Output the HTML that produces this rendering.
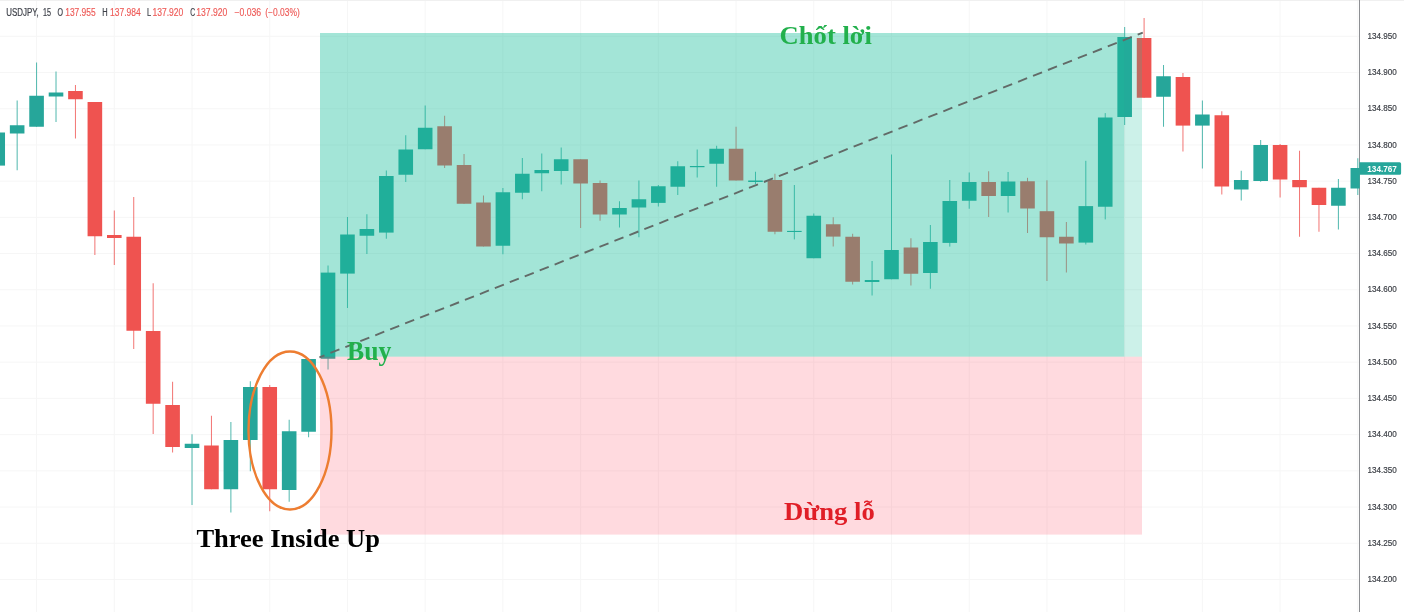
<!DOCTYPE html>
<html lang="vi"><head><meta charset="utf-8"><title>Three Inside Up - USDJPY</title>
<style>html,body{margin:0;padding:0;background:#fff}body{width:1404px;height:612px;overflow:hidden}svg{display:block}.ax{font-family:"Liberation Sans",sans-serif;font-size:9.8px;fill:#3d4047;stroke:#3d4047;stroke-width:.2px}.hd{font-family:"Liberation Sans",sans-serif;font-size:10px;fill:#3e4149;stroke:#3e4149;stroke-width:.2px}.hr{font-family:"Liberation Sans",sans-serif;font-size:10px;fill:#ee5a57;stroke:#ee5a57;stroke-width:.15px}.lb{font-family:"Liberation Serif",serif;font-weight:bold;font-size:26.67px}</style></head><body>
<svg width="1404" height="612" viewBox="0 0 1404 612">
<rect width="1404" height="612" fill="#fff"/>
<g stroke="#f6f6f6" stroke-width="1" fill="none">
<path d="M0 36.30H1359.5"/>
<path d="M0 72.51H1359.5"/>
<path d="M0 108.72H1359.5"/>
<path d="M0 144.93H1359.5"/>
<path d="M0 181.14H1359.5"/>
<path d="M0 217.35H1359.5"/>
<path d="M0 253.56H1359.5"/>
<path d="M0 289.77H1359.5"/>
<path d="M0 325.98H1359.5"/>
<path d="M0 362.19H1359.5"/>
<path d="M0 398.40H1359.5"/>
<path d="M0 434.61H1359.5"/>
<path d="M0 470.82H1359.5"/>
<path d="M0 507.03H1359.5"/>
<path d="M0 543.24H1359.5"/>
<path d="M0 579.45H1359.5"/>
<path d="M36.58 1V612"/>
<path d="M114.30 1V612"/>
<path d="M192.02 1V612"/>
<path d="M269.74 1V612"/>
<path d="M347.46 1V612"/>
<path d="M425.18 1V612"/>
<path d="M502.90 1V612"/>
<path d="M580.62 1V612"/>
<path d="M658.34 1V612"/>
<path d="M736.06 1V612"/>
<path d="M813.78 1V612"/>
<path d="M891.50 1V612"/>
<path d="M969.22 1V612"/>
<path d="M1046.94 1V612"/>
<path d="M1124.66 1V612"/>
<path d="M1202.38 1V612"/>
<path d="M1280.10 1V612"/>
<path d="M1357.82 1V612"/>
</g>
<rect x="0" y="0" width="1404" height="1" fill="#f0f0f0"/>
<rect x="1359.0" y="0" width="1" height="612" fill="#8d8f93"/>
<clipPath id="cp"><rect x="0" y="0" width="1359.8" height="612"/></clipPath>
<g clip-path="url(#cp)">
<rect x="-9.58" y="132.50" width="14.6" height="33.10" fill="#26a69a"/>
<rect x="16.65" y="100.50" width="1" height="69.75" fill="#26a69a" fill-opacity=".8"/>
<rect x="9.85" y="125.25" width="14.6" height="8.25" fill="#26a69a"/>
<rect x="36.08" y="62.50" width="1" height="64.25" fill="#26a69a" fill-opacity=".8"/>
<rect x="29.28" y="95.75" width="14.6" height="31.00" fill="#26a69a"/>
<rect x="55.51" y="71.50" width="1" height="50.50" fill="#26a69a" fill-opacity=".8"/>
<rect x="48.71" y="92.50" width="14.6" height="4.00" fill="#26a69a"/>
<rect x="74.94" y="85.00" width="1" height="53.50" fill="#ef5350" fill-opacity=".8"/>
<rect x="68.14" y="91.00" width="14.6" height="8.25" fill="#ef5350"/>
<rect x="94.37" y="102.00" width="1" height="153.00" fill="#ef5350" fill-opacity=".8"/>
<rect x="87.57" y="102.00" width="14.6" height="134.25" fill="#ef5350"/>
<rect x="113.80" y="210.50" width="1" height="54.50" fill="#ef5350" fill-opacity=".8"/>
<rect x="107.00" y="235.00" width="14.6" height="3.00" fill="#ef5350"/>
<rect x="133.23" y="197.00" width="1" height="152.00" fill="#ef5350" fill-opacity=".8"/>
<rect x="126.43" y="236.75" width="14.6" height="94.00" fill="#ef5350"/>
<rect x="152.66" y="283.25" width="1" height="150.75" fill="#ef5350" fill-opacity=".8"/>
<rect x="145.86" y="331.00" width="14.6" height="72.75" fill="#ef5350"/>
<rect x="172.09" y="381.75" width="1" height="70.75" fill="#ef5350" fill-opacity=".8"/>
<rect x="165.29" y="405.00" width="14.6" height="42.00" fill="#ef5350"/>
<rect x="191.52" y="434.25" width="1" height="70.75" fill="#26a69a" fill-opacity=".8"/>
<rect x="184.72" y="443.75" width="14.6" height="4.25" fill="#26a69a"/>
<rect x="210.95" y="415.75" width="1" height="73.50" fill="#ef5350" fill-opacity=".8"/>
<rect x="204.15" y="445.50" width="14.6" height="43.75" fill="#ef5350"/>
<rect x="230.38" y="422.00" width="1" height="90.50" fill="#26a69a" fill-opacity=".8"/>
<rect x="223.58" y="440.00" width="14.6" height="49.25" fill="#26a69a"/>
<rect x="249.81" y="381.25" width="1" height="90.00" fill="#26a69a" fill-opacity=".8"/>
<rect x="243.01" y="387.00" width="14.6" height="53.00" fill="#26a69a"/>
<rect x="269.24" y="385.00" width="1" height="126.25" fill="#ef5350" fill-opacity=".8"/>
<rect x="262.44" y="387.00" width="14.6" height="102.25" fill="#ef5350"/>
<rect x="288.67" y="419.75" width="1" height="82.00" fill="#26a69a" fill-opacity=".8"/>
<rect x="281.87" y="431.25" width="14.6" height="58.75" fill="#26a69a"/>
<rect x="308.10" y="359.00" width="1" height="78.25" fill="#26a69a" fill-opacity=".8"/>
<rect x="301.30" y="359.00" width="14.6" height="72.75" fill="#26a69a"/>
<rect x="327.53" y="265.50" width="1" height="104.00" fill="#26a69a" fill-opacity=".8"/>
<rect x="320.73" y="272.60" width="14.6" height="86.15" fill="#26a69a"/>
<rect x="346.96" y="217.00" width="1" height="91.00" fill="#26a69a" fill-opacity=".8"/>
<rect x="340.16" y="234.50" width="14.6" height="39.10" fill="#26a69a"/>
<rect x="366.39" y="214.25" width="1" height="39.75" fill="#26a69a" fill-opacity=".8"/>
<rect x="359.59" y="229.00" width="14.6" height="6.75" fill="#26a69a"/>
<rect x="385.82" y="170.50" width="1" height="68.25" fill="#26a69a" fill-opacity=".8"/>
<rect x="379.02" y="176.00" width="14.6" height="56.60" fill="#26a69a"/>
<rect x="405.25" y="135.25" width="1" height="46.75" fill="#26a69a" fill-opacity=".8"/>
<rect x="398.45" y="149.50" width="14.6" height="25.25" fill="#26a69a"/>
<rect x="424.68" y="105.50" width="1" height="43.75" fill="#26a69a" fill-opacity=".8"/>
<rect x="417.88" y="127.75" width="14.6" height="21.50" fill="#26a69a"/>
<rect x="444.11" y="115.75" width="1" height="52.25" fill="#ef5350" fill-opacity=".8"/>
<rect x="437.31" y="126.25" width="14.6" height="39.25" fill="#ef5350"/>
<rect x="463.54" y="154.00" width="1" height="49.75" fill="#ef5350" fill-opacity=".8"/>
<rect x="456.74" y="165.00" width="14.6" height="38.75" fill="#ef5350"/>
<rect x="482.97" y="195.50" width="1" height="51.00" fill="#ef5350" fill-opacity=".8"/>
<rect x="476.17" y="202.50" width="14.6" height="44.00" fill="#ef5350"/>
<rect x="502.40" y="188.00" width="1" height="66.25" fill="#26a69a" fill-opacity=".8"/>
<rect x="495.60" y="192.25" width="14.6" height="53.50" fill="#26a69a"/>
<rect x="521.83" y="158.00" width="1" height="41.25" fill="#26a69a" fill-opacity=".8"/>
<rect x="515.03" y="173.75" width="14.6" height="19.00" fill="#26a69a"/>
<rect x="541.26" y="153.50" width="1" height="37.75" fill="#26a69a" fill-opacity=".8"/>
<rect x="534.46" y="170.00" width="14.6" height="3.25" fill="#26a69a"/>
<rect x="560.69" y="147.50" width="1" height="37.00" fill="#26a69a" fill-opacity=".8"/>
<rect x="553.89" y="159.25" width="14.6" height="11.75" fill="#26a69a"/>
<rect x="580.12" y="159.25" width="1" height="68.75" fill="#ef5350" fill-opacity=".8"/>
<rect x="573.32" y="159.25" width="14.6" height="24.25" fill="#ef5350"/>
<rect x="599.55" y="180.50" width="1" height="40.25" fill="#ef5350" fill-opacity=".8"/>
<rect x="592.75" y="183.00" width="14.6" height="31.50" fill="#ef5350"/>
<rect x="618.98" y="201.25" width="1" height="26.25" fill="#26a69a" fill-opacity=".8"/>
<rect x="612.18" y="208.00" width="14.6" height="6.50" fill="#26a69a"/>
<rect x="638.41" y="180.50" width="1" height="56.75" fill="#26a69a" fill-opacity=".8"/>
<rect x="631.61" y="199.25" width="14.6" height="8.25" fill="#26a69a"/>
<rect x="657.84" y="185.00" width="1" height="21.50" fill="#26a69a" fill-opacity=".8"/>
<rect x="651.04" y="186.25" width="14.6" height="16.65" fill="#26a69a"/>
<rect x="677.27" y="161.25" width="1" height="33.75" fill="#26a69a" fill-opacity=".8"/>
<rect x="670.47" y="166.25" width="14.6" height="20.50" fill="#26a69a"/>
<rect x="696.70" y="149.50" width="1" height="28.00" fill="#26a69a" fill-opacity=".8"/>
<rect x="689.90" y="166.00" width="14.6" height="1.20" fill="#26a69a"/>
<rect x="716.13" y="145.75" width="1" height="41.00" fill="#26a69a" fill-opacity=".8"/>
<rect x="709.33" y="148.75" width="14.6" height="15.00" fill="#26a69a"/>
<rect x="735.56" y="126.75" width="1" height="53.75" fill="#ef5350" fill-opacity=".8"/>
<rect x="728.76" y="148.75" width="14.6" height="31.75" fill="#ef5350"/>
<rect x="754.99" y="171.75" width="1" height="12.25" fill="#26a69a" fill-opacity=".8"/>
<rect x="748.19" y="180.50" width="14.6" height="1.50" fill="#26a69a"/>
<rect x="774.42" y="173.75" width="1" height="60.50" fill="#ef5350" fill-opacity=".8"/>
<rect x="767.62" y="180.00" width="14.6" height="51.75" fill="#ef5350"/>
<rect x="793.85" y="185.00" width="1" height="54.40" fill="#26a69a" fill-opacity=".8"/>
<rect x="787.05" y="230.90" width="14.6" height="1.10" fill="#26a69a"/>
<rect x="813.28" y="213.50" width="1" height="44.75" fill="#26a69a" fill-opacity=".8"/>
<rect x="806.48" y="215.75" width="14.6" height="42.50" fill="#26a69a"/>
<rect x="832.71" y="217.25" width="1" height="29.25" fill="#ef5350" fill-opacity=".8"/>
<rect x="825.91" y="224.25" width="14.6" height="12.35" fill="#ef5350"/>
<rect x="852.14" y="233.75" width="1" height="50.75" fill="#ef5350" fill-opacity=".8"/>
<rect x="845.34" y="236.75" width="14.6" height="45.00" fill="#ef5350"/>
<rect x="871.57" y="261.00" width="1" height="34.50" fill="#26a69a" fill-opacity=".8"/>
<rect x="864.77" y="280.00" width="14.6" height="2.00" fill="#26a69a"/>
<rect x="891.00" y="154.50" width="1" height="124.75" fill="#26a69a" fill-opacity=".8"/>
<rect x="884.20" y="250.00" width="14.6" height="29.25" fill="#26a69a"/>
<rect x="910.43" y="238.25" width="1" height="47.25" fill="#ef5350" fill-opacity=".8"/>
<rect x="903.63" y="247.50" width="14.6" height="26.25" fill="#ef5350"/>
<rect x="929.86" y="225.00" width="1" height="63.75" fill="#26a69a" fill-opacity=".8"/>
<rect x="923.06" y="242.00" width="14.6" height="31.00" fill="#26a69a"/>
<rect x="949.29" y="180.00" width="1" height="66.60" fill="#26a69a" fill-opacity=".8"/>
<rect x="942.49" y="201.00" width="14.6" height="41.90" fill="#26a69a"/>
<rect x="968.72" y="172.50" width="1" height="36.25" fill="#26a69a" fill-opacity=".8"/>
<rect x="961.92" y="182.00" width="14.6" height="18.75" fill="#26a69a"/>
<rect x="988.15" y="171.25" width="1" height="45.75" fill="#ef5350" fill-opacity=".8"/>
<rect x="981.35" y="182.00" width="14.6" height="14.00" fill="#ef5350"/>
<rect x="1007.58" y="172.00" width="1" height="40.50" fill="#26a69a" fill-opacity=".8"/>
<rect x="1000.78" y="181.50" width="14.6" height="14.50" fill="#26a69a"/>
<rect x="1027.01" y="177.80" width="1" height="55.20" fill="#ef5350" fill-opacity=".8"/>
<rect x="1020.21" y="181.25" width="14.6" height="27.25" fill="#ef5350"/>
<rect x="1046.44" y="180.30" width="1" height="100.70" fill="#ef5350" fill-opacity=".8"/>
<rect x="1039.64" y="211.20" width="14.6" height="26.05" fill="#ef5350"/>
<rect x="1065.87" y="222.00" width="1" height="50.50" fill="#ef5350" fill-opacity=".8"/>
<rect x="1059.07" y="236.75" width="14.6" height="6.75" fill="#ef5350"/>
<rect x="1085.30" y="160.80" width="1" height="83.70" fill="#26a69a" fill-opacity=".8"/>
<rect x="1078.50" y="206.10" width="14.6" height="36.50" fill="#26a69a"/>
<rect x="1104.73" y="113.10" width="1" height="106.30" fill="#26a69a" fill-opacity=".8"/>
<rect x="1097.93" y="117.50" width="14.6" height="89.25" fill="#26a69a"/>
<rect x="1124.16" y="27.00" width="1" height="98.00" fill="#26a69a" fill-opacity=".8"/>
<rect x="1117.36" y="37.00" width="14.6" height="80.00" fill="#26a69a"/>
<rect x="1143.59" y="18.00" width="1" height="79.75" fill="#ef5350" fill-opacity=".8"/>
<rect x="1136.79" y="38.00" width="14.6" height="59.75" fill="#ef5350"/>
<rect x="1163.02" y="65.00" width="1" height="61.75" fill="#26a69a" fill-opacity=".8"/>
<rect x="1156.22" y="76.25" width="14.6" height="20.50" fill="#26a69a"/>
<rect x="1182.45" y="73.00" width="1" height="78.50" fill="#ef5350" fill-opacity=".8"/>
<rect x="1175.65" y="77.00" width="14.6" height="48.60" fill="#ef5350"/>
<rect x="1201.88" y="100.50" width="1" height="68.00" fill="#26a69a" fill-opacity=".8"/>
<rect x="1195.08" y="114.50" width="14.6" height="11.10" fill="#26a69a"/>
<rect x="1221.31" y="111.25" width="1" height="83.25" fill="#ef5350" fill-opacity=".8"/>
<rect x="1214.51" y="115.25" width="14.6" height="71.25" fill="#ef5350"/>
<rect x="1240.74" y="170.75" width="1" height="29.75" fill="#26a69a" fill-opacity=".8"/>
<rect x="1233.94" y="180.00" width="14.6" height="9.50" fill="#26a69a"/>
<rect x="1260.17" y="140.00" width="1" height="41.75" fill="#26a69a" fill-opacity=".8"/>
<rect x="1253.37" y="145.00" width="14.6" height="36.00" fill="#26a69a"/>
<rect x="1279.60" y="144.00" width="1" height="53.50" fill="#ef5350" fill-opacity=".8"/>
<rect x="1272.80" y="145.00" width="14.6" height="34.50" fill="#ef5350"/>
<rect x="1299.03" y="150.75" width="1" height="86.00" fill="#ef5350" fill-opacity=".8"/>
<rect x="1292.23" y="180.00" width="14.6" height="7.25" fill="#ef5350"/>
<rect x="1318.46" y="187.75" width="1" height="44.00" fill="#ef5350" fill-opacity=".8"/>
<rect x="1311.66" y="187.75" width="14.6" height="17.25" fill="#ef5350"/>
<rect x="1337.89" y="179.00" width="1" height="50.50" fill="#26a69a" fill-opacity=".8"/>
<rect x="1331.09" y="187.75" width="14.6" height="18.00" fill="#26a69a"/>
<rect x="1357.32" y="158.25" width="1" height="36.75" fill="#26a69a" fill-opacity=".8"/>
<rect x="1350.52" y="168.00" width="14.6" height="20.50" fill="#26a69a"/>
</g>
<text class="ax" x="1367.5" y="38.90" textLength="29.3" lengthAdjust="spacingAndGlyphs">134.950</text>
<text class="ax" x="1367.5" y="75.11" textLength="29.3" lengthAdjust="spacingAndGlyphs">134.900</text>
<text class="ax" x="1367.5" y="111.32" textLength="29.3" lengthAdjust="spacingAndGlyphs">134.850</text>
<text class="ax" x="1367.5" y="147.53" textLength="29.3" lengthAdjust="spacingAndGlyphs">134.800</text>
<text class="ax" x="1367.5" y="183.74" textLength="29.3" lengthAdjust="spacingAndGlyphs">134.750</text>
<text class="ax" x="1367.5" y="219.95" textLength="29.3" lengthAdjust="spacingAndGlyphs">134.700</text>
<text class="ax" x="1367.5" y="256.16" textLength="29.3" lengthAdjust="spacingAndGlyphs">134.650</text>
<text class="ax" x="1367.5" y="292.37" textLength="29.3" lengthAdjust="spacingAndGlyphs">134.600</text>
<text class="ax" x="1367.5" y="328.58" textLength="29.3" lengthAdjust="spacingAndGlyphs">134.550</text>
<text class="ax" x="1367.5" y="364.79" textLength="29.3" lengthAdjust="spacingAndGlyphs">134.500</text>
<text class="ax" x="1367.5" y="401.00" textLength="29.3" lengthAdjust="spacingAndGlyphs">134.450</text>
<text class="ax" x="1367.5" y="437.21" textLength="29.3" lengthAdjust="spacingAndGlyphs">134.400</text>
<text class="ax" x="1367.5" y="473.42" textLength="29.3" lengthAdjust="spacingAndGlyphs">134.350</text>
<text class="ax" x="1367.5" y="509.63" textLength="29.3" lengthAdjust="spacingAndGlyphs">134.300</text>
<text class="ax" x="1367.5" y="545.84" textLength="29.3" lengthAdjust="spacingAndGlyphs">134.250</text>
<text class="ax" x="1367.5" y="582.05" textLength="29.3" lengthAdjust="spacingAndGlyphs">134.200</text>
<path d="M1359.3 162.2H1399.6a1.5 1.5 0 0 1 1.5 1.5v9.6a1.5 1.5 0 0 1 -1.5 1.5H1359.3z" fill="#26a69a"/>
<text x="1367.3" y="172.3" font-family="Liberation Sans,sans-serif" font-weight="bold" font-size="9.8px" fill="#fff" textLength="29.6" lengthAdjust="spacingAndGlyphs">134.767</text>
<rect x="320" y="33" width="804.2" height="323.7" fill="rgb(25,190,155)" fill-opacity="0.4"/>
<rect x="1124.2" y="33" width="17.8" height="323.7" fill="rgb(25,190,155)" fill-opacity="0.22"/>
<rect x="320" y="356.7" width="822" height="177.9" fill="rgb(255,70,95)" fill-opacity="0.2"/>
<path d="M319.4 357.3L1142.8 32.6" stroke="#626a67" stroke-width="1.9" stroke-dasharray="9.7 6.37" stroke-dashoffset="4.25" fill="none"/>
<ellipse cx="290" cy="430.5" rx="41.5" ry="79" fill="none" stroke="#ed7d31" stroke-width="2.4"/>
<text class="lb" style="font-size:25.6px" x="779.6" y="43.6" fill="#22b04c" textLength="92.3" lengthAdjust="spacingAndGlyphs">Chốt lời</text>
<text class="lb" style="font-size:25.6px" x="784.1" y="520.1" fill="#e01e27" textLength="90.7" lengthAdjust="spacingAndGlyphs">Dừng lỗ</text>
<text class="lb" x="347.0" y="360.1" fill="#22b04c" textLength="44.3" lengthAdjust="spacingAndGlyphs">Buy</text>
<text class="lb" style="font-size:26.2px" x="196.4" y="547" fill="#000" textLength="183.6" lengthAdjust="spacingAndGlyphs">Three Inside Up</text>
<text class="hd" x="6.3" y="15.7" textLength="32.4" lengthAdjust="spacingAndGlyphs">USDJPY,</text>
<text class="hd" x="43" y="15.7" textLength="8" lengthAdjust="spacingAndGlyphs">15</text>
<text class="hd" x="57.5" y="15.7" textLength="5.5" lengthAdjust="spacingAndGlyphs">O</text>
<text class="hr" x="65.2" y="15.7" textLength="30.5" lengthAdjust="spacingAndGlyphs">137.955</text>
<text class="hd" x="102.3" y="15.7" textLength="5.4" lengthAdjust="spacingAndGlyphs">H</text>
<text class="hr" x="110" y="15.7" textLength="30.7" lengthAdjust="spacingAndGlyphs">137.984</text>
<text class="hd" x="147" y="15.7" textLength="4.1" lengthAdjust="spacingAndGlyphs">L</text>
<text class="hr" x="152.4" y="15.7" textLength="30.9" lengthAdjust="spacingAndGlyphs">137.920</text>
<text class="hd" x="190.2" y="15.7" textLength="4.9" lengthAdjust="spacingAndGlyphs">C</text>
<text class="hr" x="196.3" y="15.7" textLength="31.1" lengthAdjust="spacingAndGlyphs">137.920</text>
<text class="hr" x="234.4" y="15.7" textLength="26.7" lengthAdjust="spacingAndGlyphs">−0.036</text>
<text class="hr" x="265.3" y="15.7" textLength="34.5" lengthAdjust="spacingAndGlyphs">(−0.03%)</text>
</svg>
</body></html>
